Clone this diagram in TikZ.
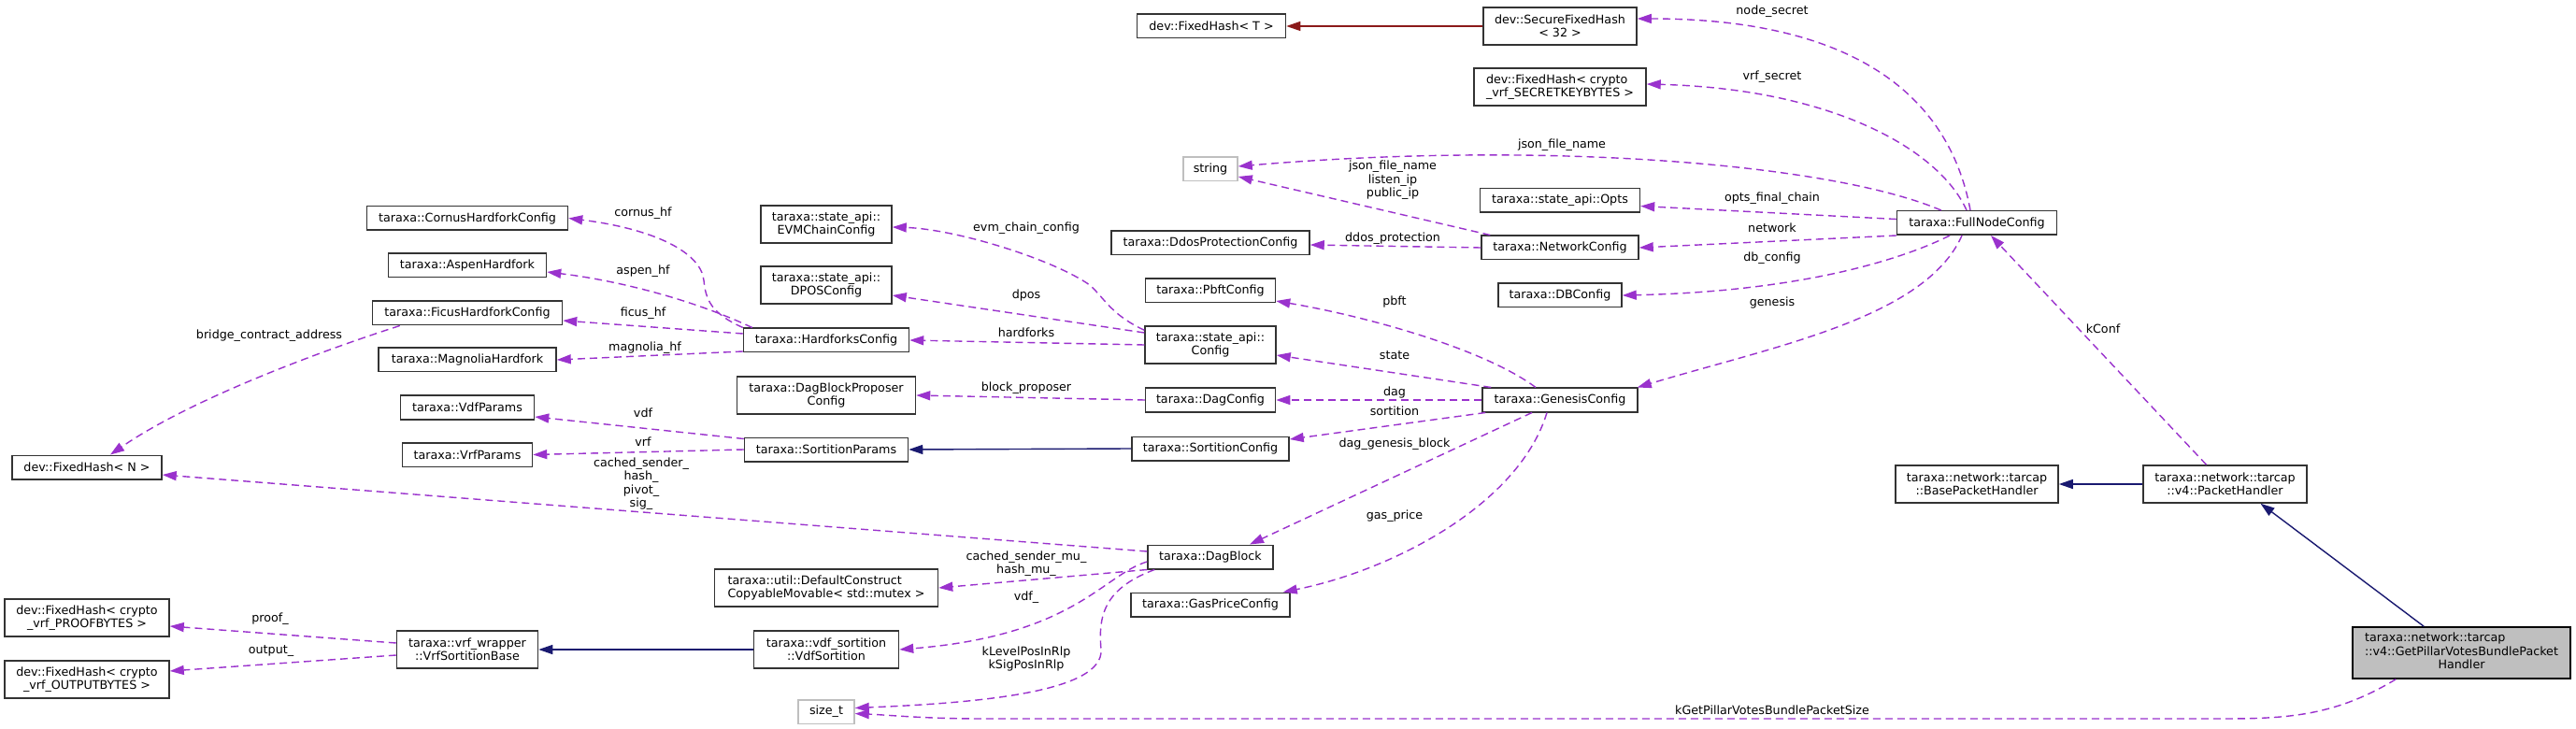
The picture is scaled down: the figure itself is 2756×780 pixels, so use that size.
\documentclass[tikz,border=0pt]{standalone}
\usepackage{fontspec}
\setmainfont{DejaVu Sans}
\usetikzlibrary{arrows.meta,calc}
\definecolor{usecol}{HTML}{9A32CD}
\definecolor{inhcol}{HTML}{191970}
\definecolor{privcol}{HTML}{8B1A1A}
\definecolor{boxcol}{HTML}{333333}
\definecolor{extcol}{HTML}{BFBFBF}
\tikzset{
  classbox/.style={draw=boxcol, line width=0.75pt, fill=white, inner xsep=3pt, inner ysep=1pt,
    minimum height=12.75pt, align=center, font=\fontsize{6.35pt}{7.25pt}\selectfont},
  extbox/.style={classbox, draw=extcol},
  twoline/.style={minimum height=20pt},
  elabel/.style={inner sep=0pt, align=center, font=\fontsize{6.35pt}{7.25pt}\selectfont},
  usedep/.style={draw=usecol, line width=0.7pt, dash pattern=on 4pt off 2.5pt,
    -{Triangle[length=7.5pt,width=5pt]}},
  inhpub/.style={draw=inhcol, line width=0.7pt, -{Triangle[length=7.5pt,width=5pt]}},
  inhpriv/.style={draw=privcol, line width=0.7pt, -{Triangle[length=7.5pt,width=5pt]}},
}
\begin{document}
\begin{tikzpicture}[x=0.5pt,y=-0.5pt]
\useasboundingbox (0,0) rectangle (2756,780);
\fill[white] (0,0) rectangle (2756,780);

% ---- nodes ----
\node[classbox,minimum width=79.5pt] (fht) at (1296,28) {dev::FixedHash< T >};
\node[classbox,twoline,minimum width=82pt] (sfh) at (1669,28) {dev::SecureFixedHash\\< 32 >};
\node[classbox,twoline,align=left,minimum width=92pt] (fhs) at (1669,93) {dev::FixedHash< crypto\\\_vrf\_SECRETKEYBYTES >};
\node[extbox,minimum width=29pt] (str) at (1295,181) {string};
\node[classbox,minimum width=85.5pt] (opts) at (1669,214.5) {taraxa::state\_api::Opts};
\node[classbox,minimum width=106pt] (ddos) at (1295,260) {taraxa::DdosProtectionConfig};
\node[classbox,minimum width=84pt] (net) at (1669,265) {taraxa::NetworkConfig};
\node[classbox,minimum width=85.5pt] (full) at (2115,238.5) {taraxa::FullNodeConfig};
\node[classbox,minimum width=66pt] (db) at (1669,316) {taraxa::DBConfig};
\node[classbox,minimum width=83pt] (gen) at (1669,428) {taraxa::GenesisConfig};
\node[classbox,minimum width=69.5pt] (pbft) at (1295,311) {taraxa::PbftConfig};
\node[classbox,twoline,minimum width=70pt] (sconf) at (1295,369) {taraxa::state\_api::\\Config};
\node[classbox,minimum width=69.5pt] (dagc) at (1295,428) {taraxa::DagConfig};
\node[classbox,minimum width=84pt] (sortc) at (1295,480) {taraxa::SortitionConfig};
\node[classbox,minimum width=67pt] (dagb) at (1295,596) {taraxa::DagBlock};
\node[classbox,minimum width=85pt] (gas) at (1295,647) {taraxa::GasPriceConfig};
\node[classbox,twoline,minimum width=70pt] (evm) at (884,240) {taraxa::state\_api::\\EVMChainConfig};
\node[classbox,twoline,minimum width=70pt] (dpos) at (884,305) {taraxa::state\_api::\\DPOSConfig};
\node[classbox,minimum width=88.5pt] (hf) at (884,364) {taraxa::HardforksConfig};
\node[classbox,twoline,minimum width=95.5pt] (dbp) at (884,423) {taraxa::DagBlockProposer\\Config};
\node[classbox,minimum width=87.5pt] (sp) at (884,481) {taraxa::SortitionParams};
\node[classbox,twoline,align=left,minimum width=119.5pt] (dcm) at (884,629) {taraxa::util::DefaultConstruct\\CopyableMovable< std::mutex >};
\node[classbox,twoline,minimum width=77.5pt] (vdfs) at (884,695) {taraxa::vdf\_sortition\\::VdfSortition};
\node[extbox,minimum width=30pt] (sizet) at (884,761.5) {size\_t};
\node[classbox,minimum width=107.5pt] (cornus) at (500,233.5) {taraxa::CornusHardforkConfig};
\node[classbox,minimum width=84.5pt] (aspen) at (500,284) {taraxa::AspenHardfork};
\node[classbox,minimum width=101.5pt] (ficus) at (500,335) {taraxa::FicusHardforkConfig};
\node[classbox,minimum width=95pt] (magnolia) at (500,385) {taraxa::MagnoliaHardfork};
\node[classbox,minimum width=71.5pt] (vdfp) at (500,436) {taraxa::VdfParams};
\node[classbox,minimum width=69.5pt] (vrfp) at (500,486.5) {taraxa::VrfParams};
\node[classbox,twoline,minimum width=75.5pt] (vrfsb) at (500,695) {taraxa::vrf\_wrapper\\::VrfSortitionBase};
\node[classbox,minimum width=80pt] (fhn) at (93,500) {dev::FixedHash< N >};
\node[classbox,twoline,minimum width=88pt] (proof) at (93,661) {dev::FixedHash< crypto\\\_vrf\_PROOFBYTES >};
\node[classbox,twoline,minimum width=88pt] (output) at (93,727) {dev::FixedHash< crypto\\\_vrf\_OUTPUTBYTES >};
\node[classbox,twoline,minimum width=87pt] (base) at (2115,518) {taraxa::network::tarcap\\::BasePacketHandler};
\node[classbox,twoline,minimum width=87.5pt] (ph) at (2380.5,518) {taraxa::network::tarcap\\::v4::PacketHandler};
\node[classbox,fill=extcol,draw=black,minimum height=27.5pt,minimum width=116.5pt] (gp) at (2633.5,698.5)
  {\begin{tabular}{@{}l@{}}taraxa::network::tarcap\\::v4::GetPillarVotesBundlePacket\\\multicolumn{1}{@{}c@{}}{Handler}\end{tabular}};

% ---- inheritance ----
\draw[inhpriv] (sfh.west) -- (fht.east);
\draw[inhpub] (sortc.west) -- (sp.east);
\draw[inhpub] (vdfs.west) -- (vrfsb.east);
\draw[inhpub] (ph.west) -- (base.east);
\draw[inhpub] ($(gp.north west)+(77,0)$) -- ($(ph.south)+(38,0)$);

% ---- usage ----
\draw[usedep] ($(full.north)+(-7,0)$) .. controls (2085,100) and (1980,20) .. ($(sfh.east)+(0,-8)$);
\draw[usedep] ($(full.north)+(-11,0)$) .. controls (2075,160) and (1960,95) .. ($(fhs.east)+(0,-3)$);
\draw[usedep] ($(full.north west)+(48,0)$) .. controls (1960,175) and (1650,150) .. ($(str.east)+(0,-3)$);
\draw[usedep] ($(full.west)+(0,-4)$) -- ($(opts.east)+(0,6)$);
\draw[usedep] (full.south west) -- (net.east);
\draw[usedep] ($(full.south)+(-29,0)$) .. controls (2030,280) and (1920,312) .. (db.east);
\draw[usedep] ($(full.south)+(-16,0)$) .. controls (2060,340) and (1900,370) .. ($(gen.north east)+(-1,0)$);
\draw[usedep] ($(net.north west)+(10,0)$) -- ($(str.east)+(0,8)$);
\draw[usedep] (net.west) -- ($(ddos.east)+(0,2)$);
\draw[usedep] ($(gen.north)+(-26,0)$) .. controls (1590,375) and (1470,340) .. ($(pbft.east)+(0,11)$);
\draw[usedep] ($(gen.north west)+(10,0)$) -- ($(sconf.east)+(0,11)$);
\draw[usedep] (gen.west) -- (dagc.east);
\draw[usedep] ($(gen.south west)+(4,0)$) -- ($(sortc.east)+(0,-10)$);
\draw[usedep] ($(gen.south)+(-30,0)$) -- ($(dagb.north)+(42,0)$);
\draw[usedep] ($(gen.south)+(-14,0)$) .. controls (1625,540) and (1490,610) .. ($(gas.north east)+(-8,0)$);
\draw[usedep] ($(sconf.north west)+(0,5)$) .. controls (1185,335) and (1180,315) .. (1163,303)
   .. controls (1120,275) and (1020,245) .. ($(evm.east)+(0,3)$);
\draw[usedep] ($(sconf.west)+(0,-13)$) -- ($(dpos.east)+(0,11)$);
\draw[usedep] (sconf.west) -- (hf.east);
\draw[usedep] (hf.north west) .. controls (760,335) and (755,320) .. (753,300)
   .. controls (750,270) and (700,245) .. (cornus.east);
\draw[usedep] ($(hf.north west)+(10,0)$) .. controls (740,320) and (660,300) .. ($(aspen.east)+(0,7)$);
\draw[usedep] ($(hf.west)+(0,-7)$) -- ($(ficus.east)+(0,8)$);
\draw[usedep] ($(hf.west)+(0,12)$) -- (magnolia.east);
\draw[usedep] ($(ficus.south west)+(30,0)$) .. controls (330,380) and (200,430) .. ($(fhn.north)+(25,0)$);
\draw[usedep] (dagc.west) -- (dbp.east);
\draw[usedep] ($(sp.north west)+(0,2)$) -- ($(vdfp.east)+(0,10)$);
\draw[usedep] (sp.west) -- (vrfp.east);
\draw[usedep] ($(dagb.west)+(0,-6)$) -- ($(fhn.east)+(0,8)$);
\draw[usedep] (dagb.south west) -- (dcm.east);
\draw[usedep] ($(dagb.west)+(0,5)$) .. controls (1180,615) and (1150,680) .. (vdfs.east);
\draw[usedep] ($(dagb.south west)+(8,0)$) .. controls (1180,630) and (1175,660) .. (1178,695)
   .. controls (1181,740) and (1050,752) .. ($(sizet.east)+(0,-4)$);
\draw[usedep] ($(vrfsb.west)+(0,-7)$) -- ($(proof.east)+(0,9)$);
\draw[usedep] ($(vrfsb.west)+(0,6)$) -- ($(output.east)+(0,-9)$);
\draw[usedep] ($(ph.north)+(-20,0)$) -- ($(full.south)+(15,0)$);
\coordinate (kg1) at (2380,769);
\coordinate (kg2) at (1050,769);
\draw[usedep] ($(gp.south west)+(47,0)$) .. controls (2500,765) and (2450,769) .. (kg1) -- (kg2)
   .. controls (990,769) and (950,765) .. ($(sizet.east)+(0,2)$);

% ---- labels ----
\node[elabel] (Lns) at (1896,12) {node\_secret};
\node[elabel] (Lvs) at (1896,82) {vrf\_secret};
\node[elabel] (Ljf) at (1671,155) {json\_file\_name};
\node[elabel] (Ljl) at (1490,193) {json\_file\_name\\listen\_ip\\public\_ip};
\node[elabel] (Lofc) at (1896,212) {opts\_final\_chain};
\node[elabel] (Lnet) at (1896,244) {network};
\node[elabel] (Ldbc) at (1896,276) {db\_config};
\node[elabel] (Lgen) at (1896,324) {genesis};
\node[elabel] (Lddos) at (1490,255) {ddos\_protection};
\node[elabel] (Lpbft) at (1492,323) {pbft};
\node[elabel] (Lstate) at (1492,380) {state};
\node[elabel] (Ldag) at (1492,420) {dag};
\node[elabel] (Lsort) at (1492,440) {sortition};
\node[elabel] (Ldgb) at (1492,475) {dag\_genesis\_block};
\node[elabel] (Lgas) at (1492,552) {gas\_price};
\node[elabel] (Levm) at (1098,244) {evm\_chain\_config};
\node[elabel] (Ldpos) at (1098,316) {dpos};
\node[elabel] (Lhf) at (1098,356) {hardforks};
\node[elabel] (Lbp) at (1098,415) {block\_proposer};
\node[elabel] (Lcor) at (688,228) {cornus\_hf};
\node[elabel] (Lasp) at (688,290) {aspen\_hf};
\node[elabel] (Lfic) at (688,335) {ficus\_hf};
\node[elabel] (Lmag) at (690,372) {magnolia\_hf};
\node[elabel] (Lvdf) at (688,442) {vdf};
\node[elabel] (Lvrf) at (688,473) {vrf};
\node[elabel] (Lchps) at (686,517.5) {cached\_sender\_\\hash\_\\pivot\_\\sig\_};
\node[elabel] (Lbca) at (288,359) {bridge\_contract\_address};
\node[elabel] (Lproof) at (289,662) {proof\_};
\node[elabel] (Loutput) at (290,697) {output\_};
\node[elabel] (Lmu) at (1098,603) {cached\_sender\_mu\_\\hash\_mu\_};
\node[elabel] (Lvdfu) at (1098,639) {vdf\_};
\node[elabel] (Lklev) at (1098,705) {kLevelPosInRlp\\kSigPosInRlp};
\node[elabel] (Lkconf) at (2250,352) {kConf};
\node[elabel] (Lkget) at (1896,760) {kGetPillarVotesBundlePacketSize};
\end{tikzpicture}
\end{document}
